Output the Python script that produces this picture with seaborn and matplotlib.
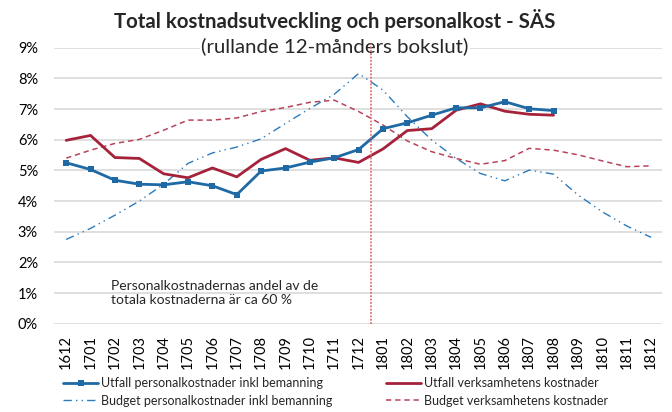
import numpy as np
import pandas as pd
import matplotlib
matplotlib.use("Agg")
import matplotlib.pyplot as plt
import seaborn as sns
from matplotlib.ticker import FuncFormatter

periods = ['1612', '1701', '1702', '1703', '1704', '1705', '1706', '1707', '1708',
           '1709', '1710', '1711', '1712', '1801', '1802', '1803', '1804', '1805',
           '1806', '1807', '1808', '1809', '1810', '1811', '1812']

utfall_personal = [5.25, 5.03, 4.68, 4.55, 4.53, 4.63, 4.50, 4.21, 4.98, 5.08, 5.27,
                   5.41, 5.68, 6.36, 6.55, 6.80, 7.04, 7.04, 7.24, 7.01, 6.95]
utfall_verks = [5.98, 6.14, 5.42, 5.39, 4.89, 4.76, 5.08, 4.79, 5.36, 5.71, 5.33,
                5.41, 5.26, 5.70, 6.30, 6.36, 6.96, 7.17, 6.93, 6.83, 6.80]
budget_personal = [2.75, 3.11, 3.54, 4.00, 4.55, 5.23, 5.57, 5.76, 6.03, 6.53, 7.02,
                   7.48, 8.16, 7.62, 6.75, 5.99, 5.39, 4.90, 4.66, 5.01, 4.88, 4.20,
                   3.65, 3.19, 2.82]
budget_verks = [5.40, 5.66, 5.88, 6.01, 6.31, 6.64, 6.64, 6.71, 6.92, 7.05, 7.22,
                7.29, 6.92, 6.48, 5.96, 5.61, 5.39, 5.20, 5.32, 5.72, 5.66, 5.51,
                5.31, 5.12, 5.15]

labels = ['Utfall personalkostnader inkl bemanning',
          'Utfall verksamhetens kostnader',
          'Budget personalkostnader inkl bemanning',
          'Budget verksamhetens kostnader']

sns.set_theme(style="white")
plt.rcParams['font.family'] = ['Lato', 'DejaVu Sans']

fig = plt.figure(figsize=(6.72, 4.12), dpi=100)
ax = fig.add_axes([54/672, 1-323.8/412, (662-54)/672, (323.8-47.7)/412])

c_blue = '#1f6aa5'
c_red = '#a5223a'
c_bblue = '#2b7bbd'
c_bred = '#b8445a'

xs_full = np.arange(len(periods))
xs_utf = np.arange(len(utfall_personal))

sns.lineplot(x=xs_full, y=budget_personal, ax=ax, color=c_bblue, lw=1.0,
             linestyle=(0, (6, 3, 1, 3, 1, 3)), label=labels[2], zorder=3)
sns.lineplot(x=xs_full, y=budget_verks, ax=ax, color=c_bred, lw=1.1,
             linestyle=(0, (3.5, 2.5)), label=labels[3], zorder=3)
sns.lineplot(x=xs_utf, y=utfall_verks, ax=ax, color=c_red, lw=2.0,
             label=labels[1], zorder=4)
sns.lineplot(x=xs_utf, y=utfall_personal, ax=ax, color=c_blue, lw=2.0,
             marker='s', markersize=4, markeredgewidth=0, label=labels[0], zorder=5)

# vertical separator between 1712 and 1801
ax.plot([12.5, 12.5], [0, 9.19], color='#e05a5a', lw=1.1, linestyle=(0, (1.2, 1.0)),
        clip_on=False, zorder=6)

ax.set_xlim(-0.5, 24.45)
ax.set_ylim(0, 9)
ax.set_yticks(range(0, 10))
ax.yaxis.set_major_formatter(FuncFormatter(lambda v, p: f"{int(round(v))}%"))
ax.set_xticks(xs_full)
ax.set_xticklabels(periods, rotation=90)
ax.tick_params(axis='x', length=0, pad=8, labelsize=10.5, colors='#000000')
ax.tick_params(axis='y', length=0, pad=11.5, labelsize=10.5, colors='#000000')
ax.grid(axis='y', color='#d9d9d9', lw=1.2, zorder=0)
ax.grid(axis='x', visible=False)
for s in ax.spines.values():
    s.set_visible(False)
ax.set_xlabel('')
ax.set_ylabel('')

handles, labs = ax.get_legend_handles_labels()
ax.legend_.remove()
hmap = dict(zip(labs, handles))

leg_kw = dict(frameon=False, loc='upper left', borderaxespad=0, borderpad=0,
              handlelength=2.8, handletextpad=0.25, labelspacing=0.45,
              fontsize=9)
leg1 = fig.legend([hmap[labels[0]], hmap[labels[2]]], [labels[0], labels[2]],
                  bbox_to_anchor=(63/672, 1-377/412), **leg_kw)
leg2 = fig.legend([hmap[labels[1]], hmap[labels[3]]], [labels[1], labels[3]],
                  bbox_to_anchor=(386/672, 1-377/412), **leg_kw)

fig.text(0.498, 1-20/412, 'Total kostnadsutveckling och personalkost - SÄS',
         ha='center', va='center', fontsize=14.7, fontweight='bold')
ax.text(0.498, 1-46/412, '(rullande 12-månders bokslut)', transform=fig.transFigure,
        ha='center', va='center', fontsize=14.7, clip_on=False, zorder=2,
        bbox=dict(facecolor='white', edgecolor='none', pad=1))

ax.text(111/672, 1-280/412, 'Personalkostnadernas andel av de\ntotala kostnaderna är ca 60 %',
        transform=fig.transFigure, ha='left', va='top', fontsize=10, linespacing=1.25)

fig.savefig('out.png', dpi=100)
